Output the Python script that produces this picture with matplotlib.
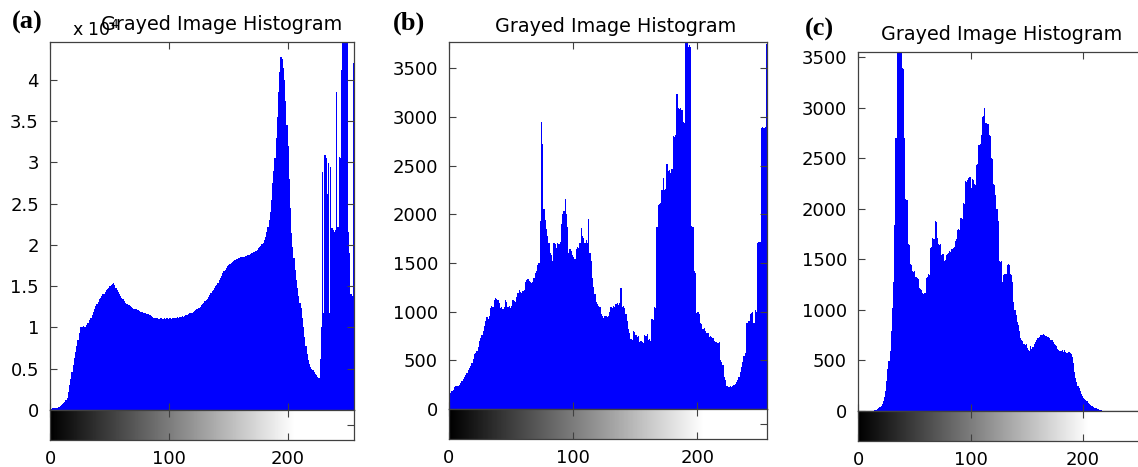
import numpy as np
import matplotlib.pyplot as plt
from matplotlib.ticker import FuncFormatter

# grey levels 0..255, one count per level
levels = np.arange(256)

# panel (a), counts in units of 1e4
hist_a = [
    0.01, 0.01, 0.02, 0.02, 0.02, 0.03, 0.03, 0.04, 0.05, 0.06, 0.07, 0.08, 0.10, 0.12, 0.15, 0.22,
    0.30, 0.38, 0.46, 0.55, 0.63, 0.70, 0.78, 0.85, 0.93, 1.00, 1.01, 1.00, 1.02, 1.01, 1.03, 1.05,
    1.06, 1.09, 1.12, 1.15, 1.19, 1.22, 1.26, 1.29, 1.31, 1.34, 1.36, 1.38, 1.40, 1.41, 1.43, 1.45,
    1.47, 1.48, 1.50, 1.52, 1.53, 1.54, 1.51, 1.48, 1.45, 1.43, 1.40, 1.38, 1.36, 1.34, 1.32, 1.30,
    1.29, 1.28, 1.27, 1.26, 1.25, 1.24, 1.23, 1.23, 1.22, 1.21, 1.21, 1.20, 1.19, 1.19, 1.18, 1.17,
    1.17, 1.16, 1.16, 1.15, 1.15, 1.14, 1.13, 1.12, 1.12, 1.11, 1.11, 1.10, 1.10, 1.11, 1.10, 1.10,
    1.11, 1.10, 1.11, 1.10, 1.11, 1.11, 1.10, 1.12, 1.11, 1.12, 1.12, 1.13, 1.12, 1.13, 1.13, 1.14,
    1.13, 1.14, 1.15, 1.15, 1.16, 1.17, 1.18, 1.18, 1.19, 1.20, 1.21, 1.22, 1.23, 1.24, 1.25, 1.27,
    1.29, 1.30, 1.32, 1.33, 1.35, 1.37, 1.39, 1.42, 1.44, 1.46, 1.48, 1.50, 1.52, 1.54, 1.57, 1.60,
    1.63, 1.66, 1.68, 1.70, 1.72, 1.74, 1.76, 1.77, 1.78, 1.79, 1.80, 1.82, 1.82, 1.83, 1.84, 1.84,
    1.85, 1.85, 1.86, 1.86, 1.87, 1.87, 1.88, 1.88, 1.89, 1.90, 1.90, 1.91, 1.92, 1.93, 1.94, 1.96,
    1.97, 1.99, 2.01, 2.03, 2.06, 2.10, 2.16, 2.22, 2.30, 2.40, 2.55, 2.75, 2.90, 3.05, 3.30, 3.55,
    3.85, 4.10, 4.28, 4.25, 4.15, 4.00, 3.75, 3.45, 3.20, 2.80, 2.45, 2.15, 1.98, 1.84, 1.70, 1.58,
    1.48, 1.38, 1.30, 1.24, 1.12, 1.00, 0.88, 0.78, 0.68, 0.61, 0.56, 0.52, 0.50, 0.48, 0.46, 0.44,
    0.42, 0.40, 0.39, 0.62, 1.00, 2.89, 1.18, 3.09, 3.06, 2.62, 2.99, 1.18, 2.95, 2.20, 2.18, 2.16,
    2.18, 3.86, 2.22, 3.07, 3.05, 4.12, 4.90, 4.90, 4.90, 4.90, 4.90, 2.16, 1.90, 1.40, 1.38, 4.20,
]

hist_b = [
    590, 160, 180, 200, 230, 240, 240, 235, 250, 270, 290, 310, 330, 350, 370, 400,
    420, 440, 470, 510, 560, 580, 600, 640, 700, 730, 760, 800, 850, 900, 940, 920,
    960, 1040, 1060, 1050, 1120, 1140, 1130, 1120, 1090, 1040, 1050, 1030, 1050, 1120, 1100, 1050,
    1060, 1040, 1060, 1120, 1110, 1100, 1150, 1190, 1220, 1200, 1190, 1210, 1220, 1300, 1320, 1330,
    1310, 1300, 1290, 1300, 1350, 1400, 1420, 1480, 1500, 1930, 2950, 2720, 2050, 1940, 1850, 1780,
    1700, 1600, 1580, 1520, 1700, 1690, 1650, 1700, 1690, 1720, 1900, 2000, 2030, 2160, 2000, 1870,
    1600, 1640, 1620, 1580, 1560, 1540, 1640, 1660, 1650, 1700, 1860, 1780, 1760, 1700, 1740, 1700,
    1950, 1600, 1520, 1350, 1250, 1180, 1100, 1080, 1060, 1050, 980, 950, 930, 960, 950, 940,
    960, 1000, 1050, 1040, 1060, 1050, 1080, 1090, 1070, 1090, 1240, 1050, 1060, 1040, 980, 900,
    820, 780, 720, 710, 800, 790, 760, 740, 750, 690, 700, 690, 680, 760, 750, 770,
    710, 720, 700, 920, 910, 1050, 1040, 1870, 2100, 2110, 2120, 2250, 2370, 2250, 2260, 2520,
    2440, 2450, 2420, 2460, 2800, 2790, 2810, 3240, 3090, 3080, 3090, 3070, 2950, 2940, 3760, 3760,
    3720, 3740, 3720, 1880, 1870, 1420, 1400, 990, 1000, 980, 880, 870, 820, 830, 800, 780,
    780, 740, 750, 740, 730, 700, 690, 690, 680, 690, 500, 480, 450, 330, 300, 240,
    240, 230, 240, 230, 240, 250, 260, 280, 300, 330, 380, 430, 480, 540, 570, 880,
    880, 900, 980, 990, 1000, 880, 1020, 1000, 1700, 1720, 1710, 2890, 2900, 2890, 2900, 3750,
]

hist_c = [
    0, 0, 0, 0, 0, 0, 0, 0, 0, 0, 0, 0, 0, 3, 5, 8,
    12, 18, 25, 35, 50, 70, 100, 140, 200, 300, 420, 490, 590, 790, 1020, 1280,
    1840, 2700, 2700, 3540, 3540, 3540, 3540, 3390, 3380, 2700, 2100, 2090, 1650, 1640, 1450, 1440,
    1380, 1370, 1380, 1320, 1310, 1300, 1220, 1210, 1200, 1170, 1160, 1170, 1310, 1320, 1350, 1340,
    1610, 1620, 1710, 1700, 1880, 1870, 1710, 1650, 1640, 1650, 1540, 1550, 1480, 1490, 1540, 1550,
    1560, 1580, 1570, 1600, 1610, 1620, 1680, 1700, 1790, 1800, 1790, 1910, 1900, 2060, 2050, 2270,
    2260, 2280, 2300, 2310, 2200, 2290, 2280, 2240, 2230, 2430, 2440, 2630, 2640, 2730, 2910, 2920,
    3000, 2850, 2850, 2840, 2730, 2720, 2500, 2490, 2240, 2230, 2140, 2000, 1880, 1480, 1470, 1480,
    1280, 1340, 1350, 1350, 1440, 1450, 1440, 1350, 1340, 1280, 1080, 1000, 950, 880, 850, 790,
    720, 700, 690, 660, 650, 660, 620, 600, 590, 640, 610, 630, 660, 680, 700, 720,
    720, 730, 750, 750, 760, 755, 740, 740, 735, 730, 720, 705, 700, 680, 660, 650,
    640, 610, 600, 590, 590, 600, 580, 600, 580, 575, 570, 580, 575, 560, 530, 470,
    390, 330, 290, 250, 225, 200, 170, 150, 130, 115, 105, 95, 80, 70, 60, 50,
    45, 38, 30, 25, 20, 15, 10, 7, 5, 3, 0, 0, 0, 0, 0, 0,
    0, 0, 0, 0, 0, 0, 0, 0, 0, 0, 0, 0, 0, 0, 0, 0,
    0, 0, 0, 0, 0, 0, 0, 0, 0, 0, 0, 0, 0, 0, 0, 0,
]

panel_tags = ["(a)", "(b)", "(c)"]
title_text = "Grayed Image Histogram"
x_ticks = [0, 100, 200]
y_ticks_a = [0, 0.5, 1, 1.5, 2, 2.5, 3, 3.5, 4]
y_ticks_bc = [0, 500, 1000, 1500, 2000, 2500, 3000, 3500]

W, H = 1138, 467
fig = plt.figure(figsize=(W / 100, H / 100), dpi=100)
plt.rcParams['font.family'] = ['DejaVu Sans']

spine_col = '0.25'
fmt = FuncFormatter(lambda v, p: '%g' % v)


def box(left, right, top, bottom):
    # pixel box -> figure fraction
    return [left / W, 1 - bottom / H, (right - left) / W, (bottom - top) / H]


def draw_panel(vals, ytop, yticks, left, right, top, zero, gbot, title_xy, tag_xy, tag):
    ax = fig.add_axes(box(left, right, top, zero))
    ax.bar(levels, vals, width=1.0, align='edge', color='#0000ff',
           linewidth=0, antialiased=False)
    ax.set_xlim(0, 256)
    ax.set_ylim(0, ytop)
    ax.set_xticks(x_ticks)
    ax.set_yticks(yticks)
    ax.yaxis.set_major_formatter(fmt)
    ax.tick_params(direction='in', length=5, width=0.8, color=spine_col,
                   top=True, right=True, labelbottom=False, labelsize=13, pad=8)
    for s in ax.spines.values():
        s.set_color(spine_col)
        s.set_linewidth(0.9)

    # grey-level strip under the histogram
    cb = fig.add_axes(box(left, right, zero, gbot))
    grad = np.clip(np.linspace(0, 256, 512) / 205.0, 0, 1)
    cb.imshow(grad[None, :], extent=(0, 256, 0, 1), aspect='auto',
              cmap='gray', vmin=0, vmax=1)
    cb.set_xlim(0, 256)
    cb.set_ylim(0, 1)
    cb.set_xticks(x_ticks)
    cb.set_yticks([0.5])
    cb.tick_params(axis='x', direction='in', length=5, width=0.8, color=spine_col,
                   top=True, labelsize=13, pad=7)
    cb.tick_params(axis='y', direction='in', length=5, width=0.8, color=spine_col,
                   left=False, right=True, labelleft=False)
    for s in cb.spines.values():
        s.set_color(spine_col)
        s.set_linewidth(0.9)

    fig.text(title_xy[0] / W, 1 - title_xy[1] / H, title_text,
             ha='center', va='center', fontsize=13.8)
    fig.text(tag_xy[0] / W, 1 - tag_xy[1] / H, tag, ha='left', va='center',
             fontsize=19, fontweight='bold', family=['Liberation Serif'])
    return ax


# exponent label of panel (a), drawn before the title so the title sits over it
fig.text(72 / W, 1 - 30 / H, r'x 10$^{4}$', ha='left', va='center', fontsize=12.5)

draw_panel(hist_a, 4.46, y_ticks_a, 50, 354, 42, 410, 440, (222, 25), (12, 22), panel_tags[0])
draw_panel(hist_b, 3769, y_ticks_bc, 449, 767, 42, 409, 439, (616, 27), (393, 23), panel_tags[1])
draw_panel(hist_c, 3549, y_ticks_bc, 858, 1146, 52, 411, 441, (1002, 35), (805, 29), panel_tags[2])

fig.savefig('out.png', dpi=100)
